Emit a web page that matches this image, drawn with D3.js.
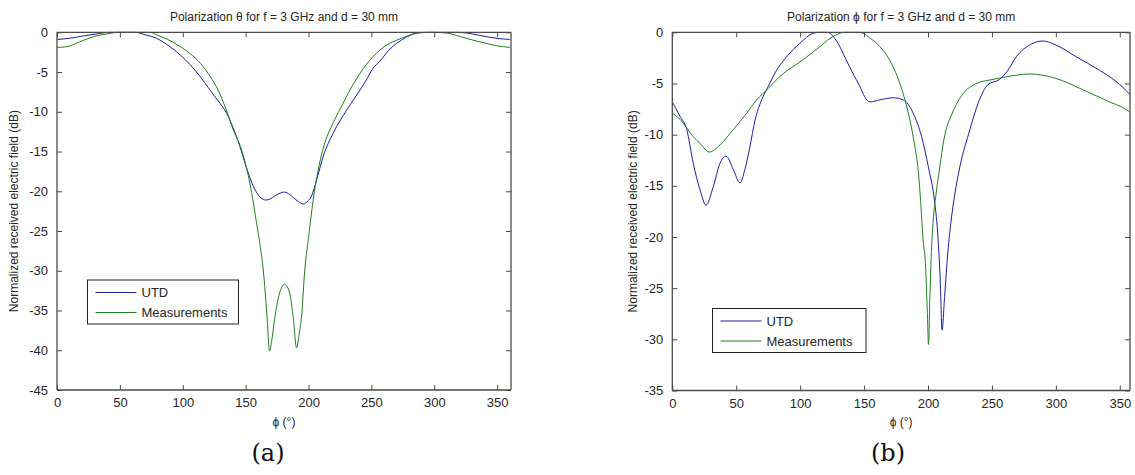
<!DOCTYPE html>
<html>
<head>
<meta charset="utf-8">
<script src="https://cdn.jsdelivr.net/npm/d3@7"></script>
<style>
  body { margin: 0; background: #fff; }
  svg text { font-family: "Liberation Sans", Arial, sans-serif; fill: #262626; }
</style>
</head>
<body>
<svg id="chart" width="1135" height="475"></svg>
<script>
// panel (a): polarization theta, [phi (deg), dB]
var utdA = [[0,-0.9],[10,-0.75],[21,-0.45],[32,-0.2],[42,0],[62,0],[70,-0.3],[79,-0.75],[88,-1.6],[98,-2.85],
  [106,-4.1],[114,-5.6],[121.6,-7.25],[128,-8.6],[135,-10.2],[140,-12],[145.5,-14.4],[152,-17.7],[157.4,-19.8],[162.7,-20.9],
  [166,-21.1],[169,-21],[174,-20.5],[181,-20.1],[185,-20.4],[188,-20.8],[192,-21.3],[196,-21.6],[199,-21.3],[202.4,-20.6],
  [206.4,-18.6],[211.7,-15.6],[219.6,-12.7],[230.3,-9.8],[241,-7.25],[246,-6],[251,-4.6],[257,-3.6],[263,-2.4],
  [270,-1.4],[278,-0.6],[286,-0.1],[293,0],[318,0],[326,-0.1],[335,-0.35],[344,-0.63],[352,-0.8],[360,-0.9]];
var measA = [[0,-1.9],[8,-1.8],[18,-1.2],[29,-0.55],[40,-0.2],[49,0],[74,0],[79,-0.3],[88,-0.9],[98,-1.8],
  [106,-2.7],[114,-3.9],[122,-5.6],[128,-7.25],[134,-9.5],[140,-12.2],[146.8,-14.8],[153.4,-19],[158.7,-24],[161,-26.3],
  [164,-29.9],[167,-35.7],[169,-40.1],[171,-38.5],[173,-36.1],[177,-32.8],[181,-31.7],[185,-32.8],[188,-36.1],[190.5,-39.7],
  [192.5,-38],[194.5,-35.7],[197,-29.9],[199.8,-26.1],[203.7,-21.1],[207.7,-17.3],[213,-13.9],[219.6,-11.4],[227.6,-8.9],[233,-7.25],
  [241,-5.15],[251,-3.1],[257,-2.2],[263,-1.5],[270,-1],[278,-0.5],[286,-0.1],[299,0],[310,-0.1],[320,-0.5],
  [331,-1],[340,-1.35],[350,-1.7],[360,-1.9]];

// panel (b): polarization phi
var utdB = [[0,-6.8],[6,-8.2],[11.3,-9.5],[16.4,-12.8],[21.7,-15.4],[26.4,-16.9],[32,-15.1],[37.3,-12.8],[42,-12.1],[47.7,-13.4],
  [52.9,-14.7],[56.8,-13.4],[60.7,-11.2],[64.7,-8.6],[69.9,-6.6],[75,-5.3],[81.6,-3.7],[89.4,-2.4],[99.8,-1.07],[110,-0.1],
  [115,0],[121,0],[128,-0.75],[136,-2.7],[142,-4.2],[146.8,-5.3],[150.5,-6.3],[154.6,-6.8],[162.4,-6.6],[172.8,-6.4],
  [180.6,-6.6],[188.4,-7.9],[195,-10.2],[200.2,-13.1],[205,-16.4],[207.5,-19.5],[209.5,-24],[211,-29.1],[213,-25.8],[215.5,-21.5],
  [218,-18.5],[221,-15.8],[225,-13.1],[232.8,-9.5],[239.3,-6.9],[247,-5.1],[256,-4.6],[262,-3.8],[269,-2.4],[280,-1.2],
  [290,-0.85],[300,-1.24],[316,-2.4],[334,-3.7],[347,-4.8],[358,-6.1],[360,-6.4]];
var measB = [[0,-7.9],[6,-8.5],[16.4,-10.2],[22,-10.9],[28.9,-11.7],[37.3,-11],[47.7,-9.5],[58.2,-7.9],[66,-6.6],[75,-5.5],
  [84.2,-4.3],[99.8,-2.9],[115.5,-1.4],[123.3,-0.6],[130,-0.15],[134,0],[145,0],[149.3,-0.1],[155,-0.6],[162.4,-1.4],
  [172.8,-3.4],[180.6,-6],[185.9,-8.6],[189.8,-11.2],[192.3,-13.4],[194.5,-17],[196.2,-20.3],[198,-22.6],[199.5,-27.4],[200.4,-30.5],
  [201.5,-25.8],[202.5,-22],[204,-18.5],[206.5,-15.6],[209.3,-13.1],[212.4,-10.5],[219,-7.9],[227.5,-6],[238,-5],[251,-4.6],
  [259,-4.4],[280,-4.07],[290,-4.2],[300,-4.5],[321,-5.6],[342,-6.8],[353,-7.4],[360,-8]];

var xTicks = [0, 50, 100, 150, 200, 250, 300, 350];
var yTicksA = [0, -5, -10, -15, -20, -25, -30, -35, -40, -45];
var yTicksB = [0, -5, -10, -15, -20, -25, -30, -35];
var seriesNames = ["UTD", "Measurements"];
var seriesColors = ["#1c1ca8", "#1f7f1f"];

var svg = d3.select("#chart");

var panels = [
  { id: "a", left: 57, right: 511, top: 32.3, bottom: 390, xmax: 361, ymin: -45, yTicks: yTicksA,
    title: "Polarization \u03b8 for f = 3 GHz and d = 30 mm", data: [utdA, measA],
    legend: { x: 87.5, y: 280, w: 151, h: 44 }, tag: "(a)", tagX: 268, ylabX: 14 },
  { id: "b", left: 672.3, right: 1130, top: 32.3, bottom: 390.5, xmax: 358, ymin: -35, yTicks: yTicksB,
    title: "Polarization \u03d5 for f = 3 GHz and d = 30 mm", data: [utdB, measB],
    legend: { x: 712.5, y: 308.5, w: 153.5, h: 44 }, tag: "(b)", tagX: 888, ylabX: 633 }
];

function drawPanel(p){
  var x = d3.scaleLinear().domain([0, p.xmax]).range([p.left, p.right]);
  var y = d3.scaleLinear().domain([p.ymin, 0]).range([p.bottom, p.top]);
  var g = svg.append("g").attr("id", "panel-" + p.id);

  g.append("clipPath").attr("id", "clip-" + p.id)
    .append("rect")
      .attr("x", p.left).attr("y", p.top - 1)
      .attr("width", p.right - p.left).attr("height", p.bottom - p.top + 1);

  // curves
  var line = d3.line()
    .x(d => x(d[0]))
    .y(d => y(d[1]))
    .curve(d3.curveMonotoneX);

  g.append("g").attr("clip-path", `url(#clip-${p.id})`)
    .selectAll("path")
    .data(p.data)
    .enter().append("path")
      .attr("d", line)
      .attr("fill", "none")
      .attr("stroke", (d, i) => seriesColors[i])
      .attr("stroke-width", 1);

  // box with inward ticks on all sides (matlab style)
  var axisColor = "#4a4a4a";
  var tl = 5;
  var xb = g.append("g").attr("transform", `translate(0,${p.bottom})`)
    .call(d3.axisBottom(x).tickValues(xTicks).tickSize(-tl).tickPadding(8));
  var xt = g.append("g").attr("transform", `translate(0,${p.top})`)
    .call(d3.axisTop(x).tickValues(xTicks).tickSize(-tl).tickFormat(""));
  var yl = g.append("g").attr("transform", `translate(${p.left},0)`)
    .call(d3.axisLeft(y).tickValues(p.yTicks).tickSize(-tl).tickPadding(9));
  var yr = g.append("g").attr("transform", `translate(${p.right},0)`)
    .call(d3.axisRight(y).tickValues(p.yTicks).tickSize(-tl).tickFormat(""));

  [xb, xt, yl, yr].forEach(a => {
    a.select(".domain").attr("stroke", axisColor).attr("stroke-width", 1.3);
    a.selectAll(".tick line").attr("stroke", axisColor);
    a.selectAll("text")
      .style("font-family", "Liberation Sans, Arial, sans-serif")
      .style("font-size", "13px")
      .attr("fill", "#333");
  });
  // plain frame edges, no outer ticks
  xt.select(".domain").attr("d", `M${p.left},0H${p.right}`);
  yr.select(".domain").attr("d", `M0,${p.top}V${p.bottom}`);
  xb.select(".domain").attr("d", `M${p.left},0H${p.right}`);
  yl.select(".domain").attr("d", `M0,${p.top}V${p.bottom}`);
  yl.selectAll("text").text(d => d === 0 ? "0" : "-" + Math.abs(d));

  // titles and labels
  g.append("text")
    .attr("x", (p.left + p.right) / 2).attr("y", 20.5)
    .attr("text-anchor", "middle")
    .style("font-size", "12px")
    .text(p.title);

  g.append("text")
    .attr("x", (p.left + p.right) / 2).attr("y", 426)
    .attr("text-anchor", "middle")
    .style("font-size", "12px")
    .text("\u03d5 (\u00b0)");

  g.append("text")
    .attr("transform", `translate(${p.ylabX + 4},${(p.top + p.bottom) / 2}) rotate(-90)`)
    .attr("text-anchor", "middle")
    .style("font-size", "12px")
    .text("Normalized received electric field (dB)");

  g.append("text")
    .attr("x", p.tagX).attr("y", 461)
    .attr("text-anchor", "middle")
    .style("font-family", "DejaVu Serif, Liberation Serif, serif")
    .style("font-size", "24px")
    .style("fill", "#111")
    .text(p.tag);

  // legend
  var lg = g.append("g").attr("transform", `translate(${p.legend.x},${p.legend.y})`);
  lg.append("rect")
    .attr("width", p.legend.w).attr("height", p.legend.h)
    .attr("fill", "#fff").attr("stroke", "#222").attr("stroke-width", 1);
  var rows = lg.selectAll("g.row")
    .data(seriesNames)
    .enter().append("g")
      .attr("class", "row")
      .attr("transform", (d, i) => `translate(0,${12.5 + i * 20})`);
  rows.append("line")
    .attr("x1", 8).attr("x2", 49)
    .attr("stroke", (d, i) => seriesColors[i]).attr("stroke-width", 1);
  rows.append("text")
    .attr("x", 54).attr("y", 4.5)
    .style("font-size", "13px")
    .text(d => d);
}

panels.forEach(drawPanel);
</script>
</body>
</html>
